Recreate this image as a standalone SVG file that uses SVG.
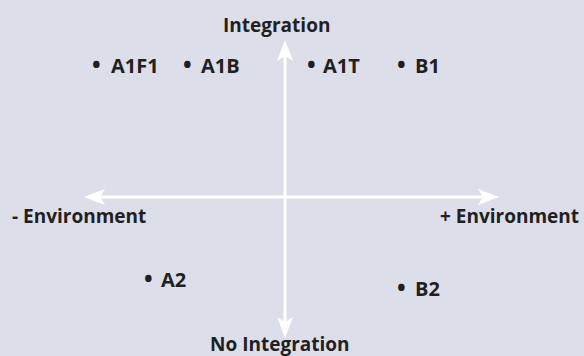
<svg xmlns="http://www.w3.org/2000/svg" width="584" height="356" viewBox="0 0 584 356">
<style>
text{font-family:"Open Sans","Noto Sans","Liberation Sans",sans-serif;font-weight:bold;font-size:19px;fill:#231f20}
.b{font-size:23px}
.l{font-size:20px}
.axis{stroke:#ffffff;stroke-width:3;fill:none}
</style>
<defs>
<marker id="ah" viewBox="0 -8 21 16" refX="5" refY="0" markerWidth="21" markerHeight="16" markerUnits="userSpaceOnUse" orient="auto-start-reverse">
<path d="M0,-8 L21,0 L0,8 L5,0 Z" fill="#ffffff"/>
</marker>
</defs>
<rect width="584" height="356" fill="#dcdeea"/>
<g id="connectors">
<line class="axis" x1="100" y1="197" x2="483" y2="197" marker-start="url(#ah)" marker-end="url(#ah)"/>
<line class="axis" x1="285" y1="56" x2="285" y2="322" marker-start="url(#ah)" marker-end="url(#ah)"/>
</g>
<g id="integration"><text x="223" y="32">Integration</text></g>
<g id="no-integration"><text x="210" y="351">No Integration</text></g>
<g id="minus-environment"><text x="12" y="223">- Environment</text></g>
<g id="plus-environment"><text x="440" y="223">+ Environment</text></g>
<g id="A1F1"><text y="73"><tspan class="b" x="92">•</tspan> <tspan class="l" x="111">A1F1</tspan></text></g>
<g id="A1B"><text y="73"><tspan class="b" x="183">•</tspan> <tspan class="l" x="201">A1B</tspan></text></g>
<g id="A1T"><text y="73"><tspan class="b" x="307">•</tspan> <tspan class="l" x="323">A1T</tspan></text></g>
<g id="B1"><text y="73"><tspan class="b" x="397">•</tspan> <tspan class="l" x="415">B1</tspan></text></g>
<g id="A2"><text y="287"><tspan class="b" x="144">•</tspan> <tspan class="l" x="161">A2</tspan></text></g>
<g id="B2"><text y="296"><tspan class="b" x="397">•</tspan> <tspan class="l" x="415">B2</tspan></text></g>
</svg>
